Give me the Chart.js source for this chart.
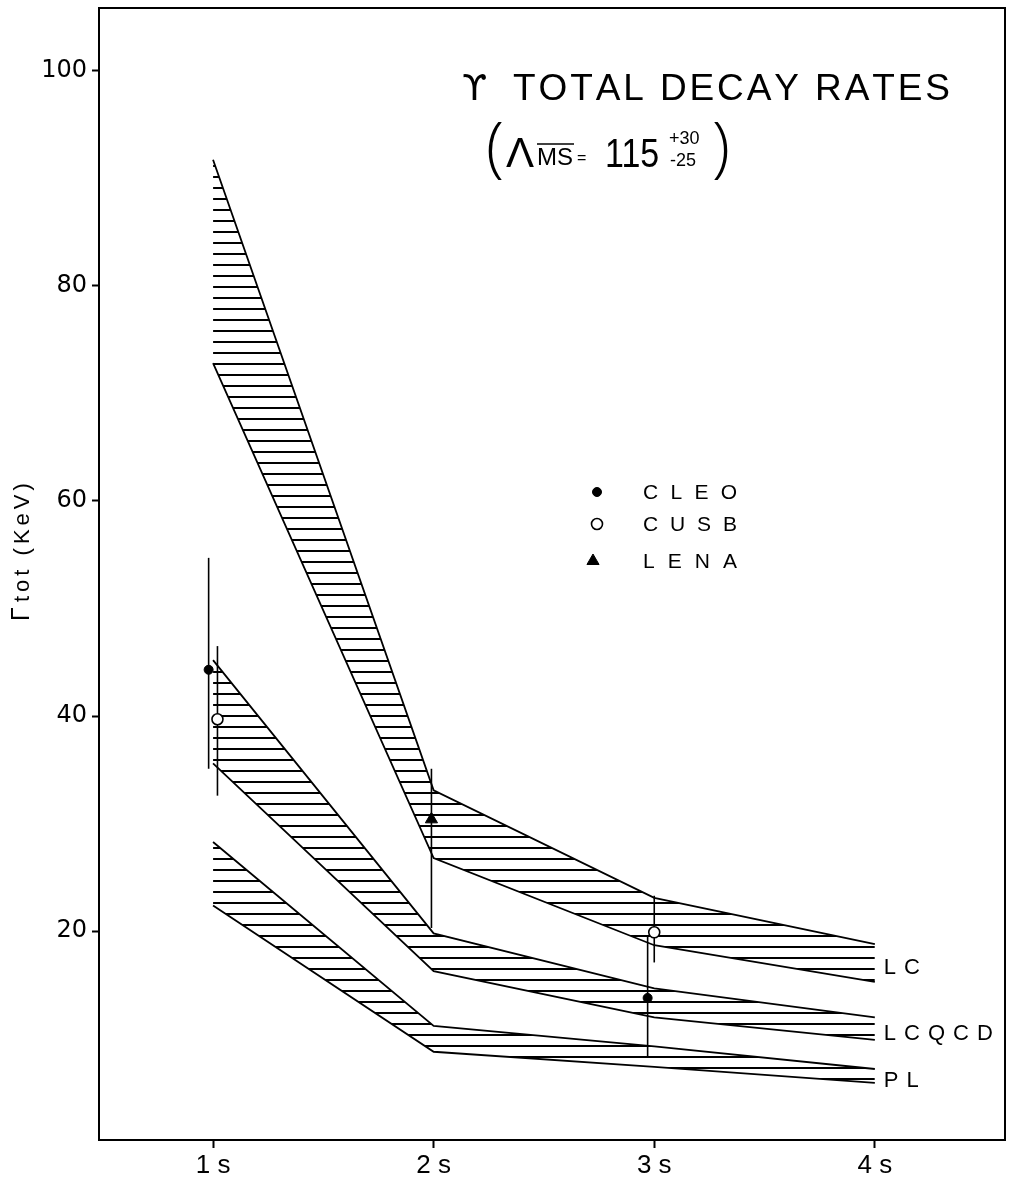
<!DOCTYPE html>
<html>
<head>
<meta charset="utf-8">
<script src="https://cdn.jsdelivr.net/npm/chart.js@4.4.1/dist/chart.umd.min.js"></script>
<style>
  html, body { margin: 0; padding: 0; background: #fff; }
  #wrap { width: 1016px; height: 1186px; }
</style>
</head>
<body>
<div id="wrap"><canvas id="decayChart" width="1016" height="1186"></canvas></div>
<script>
// states along the x axis
const states = [1, 2, 3, 4];
const stateLabels = ['1 s', '2 s', '3 s', '4 s'];
const yTicks = [20, 40, 60, 80, 100];

// theory bands, upper and lower edge per state (keV)
const lcUpper = [91.7, 33.1, 23.1, 18.8];
const lcLower = [72.8, 26.8, 18.7, 15.3];
const lcqcdUpper = [45.2, 19.8, 14.7, 12.0];
const lcqcdLower = [35.6, 16.3, 12.0, 9.9];
const plUpper = [28.3, 11.2, 9.3, 7.2];
const plLower = [22.4, 8.8, 7.4, 5.9];
const bandNames = ['LC', 'LCQCD', 'PL'];

// measurements (x is shifted a little off the state so they don't overlap)
const cleoX = [0.98, 2.97];
const cleoY = [44.3, 13.8];
const cleoLo = [35.1, 8.3];
const cleoHi = [54.7, 19.6];

const cusbX = [1.02, 3.0];
const cusbY = [39.7, 19.9];
const cusbLo = [32.6, 17.1];
const cusbHi = [46.5, 23.3];

const lenaX = [1.99];
const lenaY = [30.4];
const lenaLo = [20.3];
const lenaHi = [35.1];

const canvas = document.getElementById('decayChart');
const ctx = canvas.getContext('2d');

// horizontal hatching for the bands
const makeHatch = () => {
    const tile = document.createElement('canvas');
    tile.width = 8;
    tile.height = 11;
    const t = tile.getContext('2d');
    t.fillStyle = '#000';
    t.fillRect(0, 0, 8, 2);
    return ctx.createPattern(tile, 'repeat');
};
const hatch = makeHatch();

const toPoints = (xs, ys) => xs.map((x, i) => ({ x: x, y: ys[i] }));

const bandLine = (values, fill) => ({
    data: toPoints(states, values),
    showLine: true,
    borderColor: '#000',
    borderWidth: 1.8,
    pointRadius: 0,
    tension: 0,
    fill: fill ? '+1' : false,
    backgroundColor: fill ? hatch : 'transparent',
    order: 3
});

const errorBars = (xs, lo, hi) => xs.map((x, i) => ({
    data: [{ x: x, y: lo[i] }, { x: x, y: hi[i] }],
    showLine: true,
    borderColor: '#000',
    borderWidth: 1.6,
    pointRadius: 0,
    fill: false,
    order: 2
}));

const markerStyles = {
    CLEO: { pointStyle: 'circle', radius: 4.5, fill: '#000', borderWidth: 1 },
    CUSB: { pointStyle: 'circle', radius: 5.5, fill: '#fff', borderWidth: 1.6 },
    LENA: { pointStyle: 'triangle', radius: 7, fill: '#000', borderWidth: 1 }
};

const markers = (name, xs, ys) => ({
    data: toPoints(xs, ys),
    showLine: false,
    pointStyle: markerStyles[name].pointStyle,
    pointRadius: markerStyles[name].radius,
    pointBackgroundColor: markerStyles[name].fill,
    pointBorderColor: '#000',
    pointBorderWidth: markerStyles[name].borderWidth,
    order: 1
});

// letters laid out one by one with a fixed gap
const spaced = (c, text, x, y, gap) => {
    let cx = x;
    for (const ch of text) {
        c.fillText(ch, cx, y);
        cx += c.measureText(ch).width + gap;
    }
    return cx - gap;
};
const spacedFit = (c, text, x, y, width) => {
    const chars = [...text];
    const total = chars.reduce((s, ch) => s + c.measureText(ch).width, 0);
    spaced(c, text, x, y, (width - total) / (chars.length - 1));
};

const annotations = {
    id: 'annotations',
    afterDraw(chart) {
        const c = chart.ctx;
        const area = chart.chartArea;
        const xs = chart.scales.x;
        const ys = chart.scales.y;
        c.save();
        c.fillStyle = '#000';
        c.strokeStyle = '#000';

        // frame top and right
        c.lineWidth = 2;
        c.beginPath();
        c.moveTo(area.left, area.top);
        c.lineTo(area.right, area.top);
        c.lineTo(area.right, area.bottom);
        c.stroke();

        // title
        c.textBaseline = 'alphabetic';
        c.font = '36px "DejaVu Sans", sans-serif';
        c.fillText('\u03D2', 462, 100);
        c.font = '37px "Liberation Sans", Arial, sans-serif';
        spacedFit(c, 'TOTAL DECAY RATES', 513, 100, 437);

        // (Lambda_MSbar = 115 +30 -25)
        c.font = '300 66px "Open Sans", "Liberation Sans", sans-serif';
        c.fillText('(', 486, 170);
        c.fillText(')', 712, 170);
        c.font = '42px "Liberation Sans", Arial, sans-serif';
        c.fillText('\u039B', 506, 167);
        c.font = '24px "Liberation Sans", Arial, sans-serif';
        c.fillText('MS', 537, 165);
        c.lineWidth = 1.5;
        c.beginPath();
        c.moveTo(537, 144);
        c.lineTo(574, 144);
        c.stroke();
        c.font = '16px "Liberation Sans", Arial, sans-serif';
        c.fillText('=', 577, 163);
        c.save();
        c.translate(605, 167);
        c.scale(0.85, 1);
        c.font = '40px "Liberation Sans", Arial, sans-serif';
        c.fillText('115', 0, 0);
        c.restore();
        c.font = '18px "Liberation Sans", Arial, sans-serif';
        c.fillText('+30', 669, 144);
        c.fillText('-25', 670, 166);

        // legend
        const legend = [['CLEO', 492], ['CUSB', 524], ['LENA', 561]];
        c.font = '21px "Liberation Sans", Arial, sans-serif';
        c.textBaseline = 'middle';
        legend.forEach(([name, y]) => {
            const st = markerStyles[name];
            c.fillStyle = st.fill;
            c.lineWidth = st.borderWidth;
            Chart.helpers.drawPoint(c, {
                pointStyle: st.pointStyle,
                radius: st.radius,
                rotation: 0,
                borderWidth: st.borderWidth
            }, name === 'LENA' ? 593 : 597, y);
            c.fillStyle = '#000';
            spacedFit(c, name, 643, y + 1, 94);
        });

        // band names at the 4s end
        const ends = [[lcUpper, lcLower], [lcqcdUpper, lcqcdLower], [plUpper, plLower]];
        c.font = '22px "Liberation Sans", Arial, sans-serif';
        bandNames.forEach((name, i) => {
            const last = states.length - 1;
            const mid = (ends[i][0][last] + ends[i][1][last]) / 2;
            spaced(c, name, xs.getPixelForValue(states[last]) + 9, ys.getPixelForValue(mid) + 5, 8);
        });

        // y axis title
        c.save();
        c.translate(22, 621);
        c.rotate(-Math.PI / 2);
        c.textBaseline = 'middle';
        c.font = '25px "Liberation Sans", Arial, sans-serif';
        c.fillText('\u0393', 0, 0);
        c.font = '22px "Liberation Sans", Arial, sans-serif';
        spaced(c, 'tot (KeV)', 19, 1, 4);
        c.restore();

        c.restore();
    }
};

const config = {
    type: 'scatter',
    data: {
        datasets: [
            bandLine(lcUpper, true),
            bandLine(lcLower, false),
            bandLine(lcqcdUpper, true),
            bandLine(lcqcdLower, false),
            bandLine(plUpper, true),
            bandLine(plLower, false),
            ...errorBars(cleoX, cleoLo, cleoHi),
            ...errorBars(cusbX, cusbLo, cusbHi),
            ...errorBars(lenaX, lenaLo, lenaHi),
            markers('CLEO', cleoX, cleoY),
            markers('CUSB', cusbX, cusbY),
            markers('LENA', lenaX, lenaY)
        ]
    },
    options: {
        responsive: false,
        animation: false,
        devicePixelRatio: 1,
        layout: { padding: { top: 5, right: 11, left: 0, bottom: 0 } },
        plugins: {
            legend: { display: false },
            tooltip: { enabled: false }
        },
        scales: {
            x: {
                type: 'linear',
                min: 0.483,
                max: 4.59,
                afterBuildTicks: (scale) => { scale.ticks = states.map(v => ({ value: v })); },
                afterFit: (scale) => {
                    scale.height = 46;
                    scale.paddingLeft = 0;
                    scale.paddingRight = 0;
                },
                ticks: {
                    color: '#000',
                    padding: 2,
                    font: { family: '"Liberation Sans", Arial, sans-serif', size: 26 },
                    callback: (value) => stateLabels[states.indexOf(value)]
                },
                grid: { drawOnChartArea: false, color: '#000', tickLength: 8, tickWidth: 2 },
                border: { color: '#000', width: 2 }
            },
            y: {
                min: 0.6,
                max: 105.8,
                afterBuildTicks: (scale) => { scale.ticks = yTicks.map(v => ({ value: v })); },
                afterFit: (scale) => {
                    scale.width = 99;
                    scale.paddingTop = 0;
                    scale.paddingBottom = 0;
                },
                ticks: {
                    color: '#000',
                    padding: 5,
                    font: { family: '"DejaVu Sans", sans-serif', size: 24 }
                },
                grid: { drawOnChartArea: false, color: '#000', tickLength: 7, tickWidth: 2 },
                border: { color: '#000', width: 2 }
            }
        }
    },
    plugins: [annotations]
};

new Chart(ctx, config);
</script>
</body>
</html>
